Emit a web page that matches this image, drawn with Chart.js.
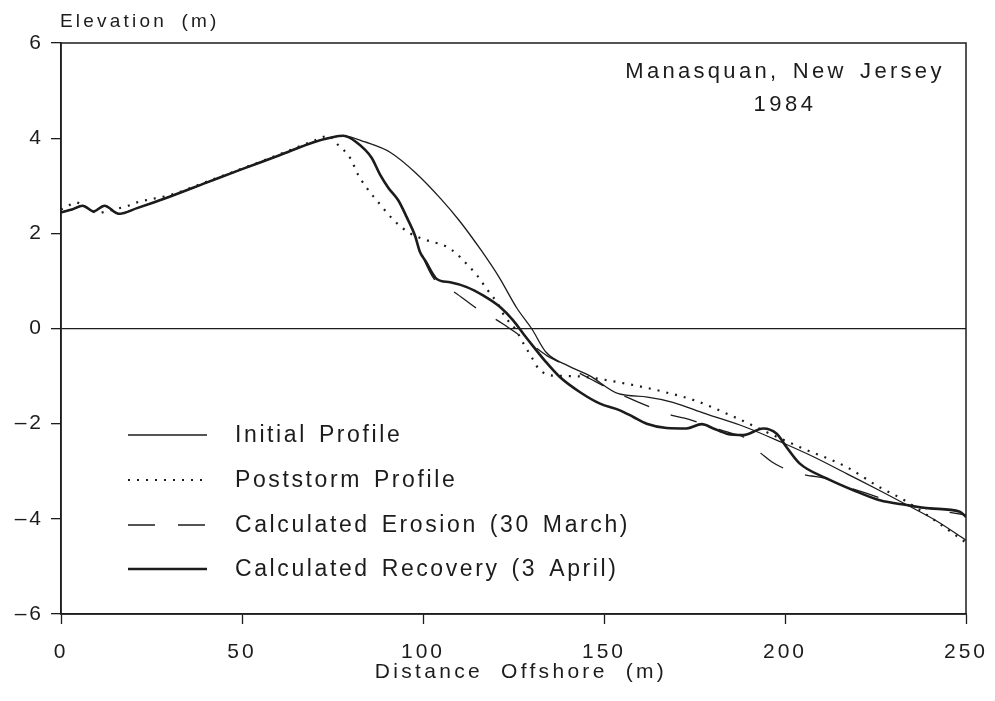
<!DOCTYPE html>
<html>
<head>
<meta charset="utf-8">
<script src="https://cdn.jsdelivr.net/npm/chart.js@4.4.1/dist/chart.umd.min.js"></script>
<style>
  html, body { margin: 0; padding: 0; background: #fff; }
  #wrap { width: 995px; height: 701px; }
</style>
</head>
<body>
<div id="wrap"><canvas id="profile"></canvas></div>
<script>
// distance offshore (m) and elevation (m)
const initialX = [0, 3, 6, 9, 12, 16, 21, 30, 40, 50, 60, 70, 75, 78, 84, 91, 98, 105, 110, 116, 121, 126, 130, 134, 140, 146, 154, 162, 169, 178, 189, 199, 208, 217, 226, 234, 242, 250];
const initialY = [2.44, 2.5, 2.58, 2.46, 2.58, 2.41, 2.53, 2.77, 3.06, 3.35, 3.63, 3.92, 4.02, 4.05, 3.92, 3.7, 3.27, 2.72, 2.27, 1.65, 1.08, 0.42, 0, -0.5, -0.78, -0.99, -1.37, -1.44, -1.55, -1.79, -2.07, -2.39, -2.7, -3.05, -3.4, -3.72, -4.05, -4.45];

const poststormX = [0, 2, 4, 7, 10, 14.5, 18.6, 21, 25, 30, 40, 50, 60, 70, 74, 76, 80, 82, 84.4, 88, 92, 96, 100, 104, 106.5, 109.3, 112, 115, 117.6, 120.4, 122.7, 125.4, 128, 130, 132, 136, 141.5, 147, 154, 162, 167, 175, 186, 195, 204, 217, 226, 233, 240, 250];
const poststormY = [2.5, 2.58, 2.65, 2.55, 2.43, 2.5, 2.58, 2.65, 2.72, 2.8, 3.08, 3.36, 3.65, 3.95, 4.05, 3.9, 3.57, 3.24, 2.96, 2.62, 2.27, 2.02, 1.88, 1.79, 1.72, 1.57, 1.36, 1.11, 0.83, 0.55, 0.24, 0, -0.35, -0.6, -0.85, -0.99, -1.0, -1.04, -1.13, -1.25, -1.34, -1.51, -1.86, -2.18, -2.49, -2.91, -3.33, -3.61, -3.96, -4.5];

const erosionX = [0, 3, 6, 9, 12, 16, 21, 30, 40, 50, 60, 70, 75, 78, 81.7, 85.8, 88.1, 90.4, 93.2, 95.5, 97.8, 100, 103, 106, 109.3, 112.5, 115.7, 119, 122, 125.5, 128.7, 131.5, 134.2, 138, 141.5, 146, 151, 156, 161.8, 165.5, 169.1, 173, 177, 180, 183, 186, 188.5, 190.3, 193.3, 196.3, 200, 203.7, 207.4, 211, 216, 222, 228, 234, 240, 245, 250];
const erosionY = [2.44, 2.5, 2.58, 2.46, 2.58, 2.41, 2.53, 2.77, 3.06, 3.35, 3.63, 3.92, 4.02, 4.05, 3.91, 3.59, 3.24, 2.96, 2.69, 2.34, 1.95, 1.5, 1.05, 0.9, 0.73, 0.55, 0.38, 0.24, 0.1, -0.08, -0.25, -0.42, -0.57, -0.72, -0.87, -1.05, -1.25, -1.43, -1.62, -1.73, -1.83, -1.9, -2.0, -2.08, -2.15, -2.22, -2.28, -2.45, -2.62, -2.8, -2.95, -3.05, -3.1, -3.15, -3.3, -3.45, -3.6, -3.72, -3.8, -3.86, -3.92];

const recoveryX = [0, 3, 6, 9, 12, 16, 21, 30, 40, 50, 60, 70, 75, 78, 81.7, 85.8, 88.1, 90.4, 93.2, 95.5, 97.8, 99.2, 100.6, 103.8, 107.5, 112.1, 116.7, 121.3, 124.9, 127.7, 130.5, 133.7, 137.8, 143.4, 148.9, 154.4, 158.1, 161.8, 167.3, 172.8, 177, 180.2, 183.9, 188.5, 194, 197.7, 200.4, 204.1, 211.5, 218.9, 226.2, 233.6, 240, 248.3, 250];
const recoveryY = [2.44, 2.5, 2.58, 2.46, 2.58, 2.41, 2.53, 2.77, 3.06, 3.35, 3.63, 3.92, 4.02, 4.05, 3.91, 3.59, 3.24, 2.96, 2.69, 2.34, 1.95, 1.6, 1.43, 1.04, 0.97, 0.87, 0.69, 0.45, 0.17, -0.11, -0.38, -0.68, -1.02, -1.34, -1.58, -1.72, -1.86, -2.0, -2.09, -2.1, -2.01, -2.1, -2.21, -2.24, -2.1, -2.21, -2.49, -2.84, -3.15, -3.4, -3.61, -3.71, -3.78, -3.85, -3.96];

const seriesNames = ['Initial Profile', 'Poststorm Profile', 'Calculated Erosion (30 March)', 'Calculated Recovery (3 April)'];
const xTicks = [0, 50, 100, 150, 200, 250];
const yTicks = [-6, -4, -2, 0, 2, 4, 6];

const INK = '#1c1c1c';
const FONT = '"Liberation Sans", Arial, sans-serif';

const toPoints = (xs, ys) => xs.map((x, i) => ({ x: x, y: ys[i] }));

const lineStyles = [
  { borderWidth: 1.3, borderDash: [] },
  { borderWidth: 2.2, borderDash: [2, 7] },
  { borderWidth: 1.3, borderDash: [27, 23] },
  { borderWidth: 2.6, borderDash: [] }
];

const seriesData = [
  toPoints(initialX, initialY),
  toPoints(poststormX, poststormY),
  toPoints(erosionX, erosionY),
  toPoints(recoveryX, recoveryY)
];

const datasets = seriesNames.map((name, i) => ({
  label: name,
  data: seriesData[i],
  showLine: true,
  fill: false,
  pointRadius: 0,
  borderColor: INK,
  borderWidth: lineStyles[i].borderWidth,
  borderDash: lineStyles[i].borderDash,
  cubicInterpolationMode: 'monotone',
  order: 4 - i
}));

// spaced-out text, like the plotter lettering of the original
function spacedText(ctx, text, x, y, size, spacing, words) {
  ctx.font = size + 'px ' + FONT;
  ctx.letterSpacing = spacing + 'px';
  ctx.wordSpacing = (words || 0) + 'px';
  ctx.fillText(text, x, y);
}

// legend, annotation, frame and axis titles drawn by hand
const paperPlugin = {
  id: 'paper',
  beforeDraw(chart) {
    chart.ctx.letterSpacing = '3px';
  },
  afterDraw(chart) {
    const ctx = chart.ctx;
    const a = chart.chartArea;
    ctx.save();
    ctx.strokeStyle = INK;
    ctx.lineWidth = 1.5;
    ctx.setLineDash([]);
    ctx.strokeRect(a.left, a.top, a.right - a.left, a.bottom - a.top);

    ctx.fillStyle = INK;
    ctx.textBaseline = 'middle';

    ctx.textAlign = 'left';
    spacedText(ctx, 'Elevation (m)', a.left - 1, 22, 19, 3.2, 6);
    ctx.textAlign = 'center';
    spacedText(ctx, 'Distance Offshore (m)', 521, 672, 21, 3.3, 9);

    spacedText(ctx, 'Manasquan, New Jersey', 785, 72, 22, 3.3, 4);
    spacedText(ctx, '1984', 785, 105, 22, 3.5, 0);

    // legend
    const rows = [435, 480, 525, 569];
    ctx.textAlign = 'left';
    seriesNames.forEach((name, i) => {
      const y = rows[i];
      ctx.beginPath();
      ctx.lineWidth = lineStyles[i].borderWidth;
      ctx.setLineDash(lineStyles[i].borderDash);
      ctx.moveTo(128, y);
      ctx.lineTo(207, y);
      ctx.stroke();
      ctx.setLineDash([]);
      spacedText(ctx, name, 235, y + 1, 23, 2.6, 3);
    });
    ctx.restore();
  }
};

new Chart(document.getElementById('profile'), {
  type: 'scatter',
  data: { datasets: datasets },
  plugins: [paperPlugin],
  options: {
    responsive: true,
    maintainAspectRatio: false,
    animation: false,
    layout: { padding: { top: 43, right: 29, left: 0, bottom: 0 } },
    plugins: { legend: { display: false }, tooltip: { enabled: false } },
    scales: {
      x: {
        type: 'linear',
        min: 0,
        max: 250,
        afterBuildTicks: s => { s.ticks = xTicks.map(v => ({ value: v })); },
        afterFit: s => { s.height = 87; s.paddingLeft = 0; s.paddingRight = 0; },
        ticks: { color: INK, font: { family: FONT, size: 21 }, padding: 16, maxRotation: 0 },
        grid: { drawOnChartArea: false, tickLength: 10, tickColor: INK, tickWidth: 1.3 },
        border: { display: true, color: INK, width: 1.5 }
      },
      y: {
        type: 'linear',
        min: -6,
        max: 6,
        afterBuildTicks: s => { s.ticks = yTicks.map(v => ({ value: v })); },
        afterFit: s => { s.width = 61; s.paddingTop = 0; s.paddingBottom = 0; },
        ticks: {
          color: INK,
          font: { family: FONT, size: 21 },
          padding: 7,
          callback: v => (v < 0 ? '\u2013' + Math.abs(v) : String(v))
        },
        grid: {
          color: c => (c.tick && c.tick.value === 0 ? INK : 'rgba(0,0,0,0)'),
          lineWidth: 1.3,
          tickLength: 10,
          tickColor: INK,
          tickWidth: 1.3
        },
        border: { display: true, color: INK, width: 1.5 }
      }
    }
  }
});
</script>
</body>
</html>
